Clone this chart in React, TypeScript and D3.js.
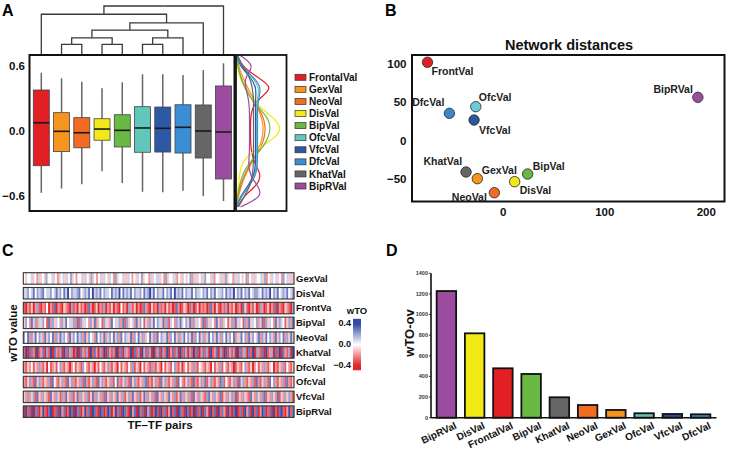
import React from 'react';
import * as d3 from 'd3';

// ---------- Panel A data ----------
const groups = ['FrontalVal', 'GexVal', 'NeoVal', 'DisVal', 'BipVal', 'OfcVal', 'VfcVal', 'DfcVal', 'KhatVal', 'BipRVal'];
const groupColors = ['#e31f26', '#f7941e', '#f26b22', '#f3e916', '#69b944', '#62c7bb', '#2d58a6', '#3a8ed6', '#666666', '#9b4c9f'];
const boxLow = [-0.57, -0.53, -0.49, -0.37, -0.48, -0.56, -0.565, -0.55, -0.6, -0.645];
const boxQ1 = [-0.32, -0.19, -0.155, -0.085, -0.147, -0.196, -0.194, -0.203, -0.249, -0.442];
const boxMed = [0.076, -0.003, -0.016, 0.018, 0.006, 0.028, 0.025, 0.034, 0.0, -0.009];
const boxQ3 = [0.378, 0.169, 0.123, 0.113, 0.15, 0.224, 0.221, 0.242, 0.24, 0.415];
const boxHigh = [0.537, 0.486, 0.454, 0.394, 0.449, 0.523, 0.523, 0.516, 0.562, 0.624];
const boxTicks = [0.6, 0.0, -0.6];

// dendrogram (merge heights)
const dendroTree = {
  h: 4.93, children: [
    { h: 4.1, children: [
      { name: 'FrontalVal', h: 0 },
      { h: 3.23, children: [
        { h: 2.5, children: [
          { h: 1.73, children: [
            { h: 1.07, children: [{ name: 'GexVal', h: 0 }, { name: 'NeoVal', h: 0 }] },
            { h: 1.07, children: [{ name: 'DisVal', h: 0 }, { name: 'BipVal', h: 0 }] },
          ] },
          { h: 1.73, children: [
            { h: 1.07, children: [{ name: 'OfcVal', h: 0 }, { name: 'VfcVal', h: 0 }] },
            { name: 'DfcVal', h: 0 },
          ] },
        ] },
        { name: 'KhatVal', h: 0 },
      ] },
    ] },
    { name: 'BipRVal', h: 0 },
  ],
};

// density side panel (value levels, density per group)
const densLevels = [0.7, 0.6, 0.5, 0.4, 0.3, 0.2, 0.1, 0, -0.1, -0.2, -0.3, -0.4, -0.5, -0.6, -0.7];
const densFrontal = [1, 5, 20, 38, 22, 15, 14, 14, 14, 15, 18, 25, 21, 7, 1];
const densGex = [0, 2, 6, 11, 17, 22, 26, 27, 25, 20, 15, 9, 5, 2, 0];
const densNeo = [0, 1, 4, 9, 15, 23, 28, 29, 27, 21, 14, 8, 4, 1, 0];
const densDis = [0, 1, 3, 8, 15, 26, 40, 46, 33, 14, 5, 3, 2, 1, 0];
const densBip = [0, 1, 4, 8, 14, 24, 33, 34, 30, 22, 12, 6, 3, 1, 0];
const densOfc = [0, 4, 16, 23, 21, 20, 20, 20, 20, 20, 20, 19, 14, 5, 0];
const densVfc = [0, 3, 14, 20, 19, 19, 19, 19, 19, 19, 19, 18, 12, 4, 0];
const densDfc = [0, 4, 17, 25, 22, 21, 21, 21, 21, 21, 21, 20, 13, 4, 0];
const densKhat = [1, 6, 13, 16, 17, 17, 17, 17, 17, 17, 17, 16, 14, 8, 2];
const densBipR = [3, 19, 8, 9, 12, 13, 13, 13, 13, 13, 12, 13, 21, 27, 4];
const densAll = [densFrontal, densGex, densNeo, densDis, densBip, densOfc, densVfc, densDfc, densKhat, densBipR];

// ---------- Panel B data ----------
const mdsNames = ['FrontVal', 'DfcVal', 'OfcVal', 'VfcVal', 'BipRVal', 'KhatVal', 'GexVal', 'BipVal', 'DisVal', 'NeoVal'];
const mdsX = [-74.7, -53.1, -27.1, -28.8, 191.7, -36.7, -25.6, 24.0, 11.2, -8.8];
const mdsY = [101.6, 35.3, 43.9, 26.6, 56.1, -40.9, -49.6, -43.5, -53.5, -67.8];
const mdsColors = ['#e31f26', '#3b87cc', '#6ccadb', '#2c56a0', '#9b4c9f', '#666666', '#f7941e', '#69b944', '#f3e916', '#f26b22'];
const mdsXTicks = [0, 100, 200];
const mdsYTicks = [100, 50, 0, -50];

// ---------- Panel C data ----------
const heatRows = ['GexVal', 'DisVal', 'FrontVa', 'BipVal', 'NeoVal', 'KhatVal', 'DfcVal', 'OfcVal', 'VfcVal', 'BipRVal'];
// digits 0..8 encode wTO -0.4..0.4 (0 = strong red, 4 = white, 8 = strong blue)
const heatValues = [
  '4344534253436443542345354634244535436342453543542634453354243546344253455342634435243543462533453644352443536344253543462435344536243545342645353',
  '5564574656745564575647584655674565748565746554756584756574655647568574655746574856574655746554657465745564756584657465745665475658465745657456',
  '1021302610214021702103210612031201720130216021302104120621302017210312061203120172013201601302120172031021602130120731021301620130217021032106',
  '3642736253641726354263745362716354263725416352745362716345273641526374653726154263754637263542716354273625413627354162735462371635427365413627',
  '6472637465273647263756427364756273645274637256473627465372647362547362746537264736257463726473625746375264736472537462736457263746527364726375',
  '1807160812706180721608172601807216081720618072160817062180716082716081270618027160817206181702716081270618072160817260718062170812607180721608',
  '2132413262130412314621320241321642132031421362132041321426132041321621320413214621302413262143213204132614213201321462130241326213402132614213',
  '2136217362132617421362173621326172136217362132614721362173621326712136217362132617421362172136271362132761421362173621326172136217462132617213',
  '3262361732632173263162732613726326137263261732632732613627326137263261732632732613726326173263216732632713263627132632173263267132632713263621',
  '0817081702810780170827018708170281708710870187028170871082708170827018708170281708710870180718072081708172081078017082708170287017081078102817',
];
const wtoTicks = [0.4, 0.0, -0.4];

// ---------- Panel D data ----------
const barNames = ['BipRVal', 'DisVal', 'FrontalVal', 'BipVal', 'KhatVal', 'NeoVal', 'GexVal', 'OfcVal', 'VfcVal', 'DfcVal'];
const barValues = [1228, 818, 479, 424, 198, 123, 75, 43, 36, 33];
const barColors = ['#9b4c9f', '#f3e916', '#e31f26', '#69b944', '#666666', '#f26b22', '#f7941e', '#5bc2b0', '#2b4f8f', '#3d86c6'];
const barTicks = [0, 200, 400, 600, 800, 1000, 1200, 1400];

const FONT = "'Liberation Sans', Arial, Helvetica, sans-serif";
const fmtTick = (v: number) => (v < 0 ? '\u2212' : '') + Math.abs(v).toFixed(1);

export default function App() {
  // Panel A scales
  const yA = d3.scaleLinear().domain([-0.6, 0.6]).range([196.1, 65.9]);
  const xA = d3.scalePoint<string>().domain(groups).range([41.3, 223.5]);
  const boxW = 16;
  const yD = d3.scaleLinear().domain([0, 5]).range([55, 5.3]);
  const xDen = d3.scaleLinear().domain([0, 50]).range([236.5, 286.5]);

  const root: any = d3.hierarchy(dendroTree as any, (d: any) => d.children);
  root.eachAfter((n: any) => {
    if (!n.children) n.px = xA(n.data.name);
    else n.px = (n.children[0].px + n.children[n.children.length - 1].px) / 2;
    n.py = yD(n.data.h);
  });
  const dendroPaths: string[] = [];
  root.each((n: any) => {
    if (n.children) {
      n.children.forEach((c: any) => {
        dendroPaths.push(`M${c.px},${c.py}V${n.py}H${n.px}`);
      });
    }
  });

  const densLine = d3.line<number>()
    .x((d) => xDen(d))
    .y((_, i) => yA(densLevels[i]))
    .curve(d3.curveBasis);

  // Panel B scales
  const xB = d3.scaleLinear().domain([0, 100]).range([503.3, 604.8]);
  const yB = d3.scaleLinear().domain([0, 100]).range([140.5, 63.5]);
  const labelPlace: Record<string, [number, number, string]> = {
    FrontVal: [4, 9, 'start'],
    DfcVal: [-5, -11, 'end'],
    OfcVal: [3, -9, 'start'],
    VfcVal: [5, 10, 'start'],
    BipRVal: [-5, -8, 'end'],
    KhatVal: [-4, -11, 'end'],
    GexVal: [4.5, -8.5, 'start'],
    BipVal: [5, -8, 'start'],
    DisVal: [5, 8.5, 'start'],
    NeoVal: [-7.5, 4.5, 'end'],
  };

  // Panel C scales
  const yC = d3.scaleBand<string>().domain(heatRows).range([272.7, 417.4]).paddingInner(0.223);
  const heatColor = d3.scaleLinear<string>().domain([-0.4, 0, 0.4]).range(['#e3262e', '#ffffff', '#3548a8']).clamp(true);
  const yCb = d3.scaleLinear().domain([-0.4, 0.4]).range([365, 323]);
  const cbStops = d3.range(-0.5, 0.51, 0.1);

  // Panel D scales
  const xDb = d3.scaleBand<string>().domain(barNames).range([431, 716]).paddingInner(0.31).paddingOuter(0.2);
  const yDb = d3.scaleLinear().domain([0, 1400]).range([417.7, 273.3]);

  return (
    <svg width={729} height={454} style={{ position: 'absolute', left: 0, top: 0, background: '#fff' }}
      fontFamily={FONT} fontWeight="bold">
      <defs>
        <linearGradient id="cbgrad" x1="0" y1="1" x2="0" y2="0">
          {cbStops.map((v, i) => (
            <stop key={i} offset={(v + 0.5) / 1.0} stopColor={heatColor(v)} />
          ))}
        </linearGradient>
      </defs>

      {/* Panel labels */}
      <text x={2} y={16} fontSize={16}>A</text>
      <text x={385} y={16} fontSize={16}>B</text>
      <text x={2} y={256} fontSize={16}>C</text>
      <text x={386} y={256} fontSize={16}>D</text>

      {/* ===== Panel A ===== */}
      <g>
        {dendroPaths.map((p, i) => (
          <path key={i} d={p} fill="none" stroke="#3a3a3a" strokeWidth={1.3} />
        ))}
        {groups.map((g, i) => {
          const cx = xA(g)!;
          return (
            <g key={g}>
              <line x1={cx} x2={cx} y1={yA(boxHigh[i])} y2={yA(boxQ3[i])} stroke="#666" strokeWidth={1.5} />
              <line x1={cx} x2={cx} y1={yA(boxQ1[i])} y2={yA(boxLow[i])} stroke="#666" strokeWidth={1.5} />
              <rect x={cx - boxW / 2} y={yA(boxQ3[i])} width={boxW} height={yA(boxQ1[i]) - yA(boxQ3[i])}
                fill={groupColors[i]} stroke="#444" strokeWidth={0.8} />
              <line x1={cx - boxW / 2} x2={cx + boxW / 2} y1={yA(boxMed[i])} y2={yA(boxMed[i])} stroke="#1a1a1a" strokeWidth={1.6} />
            </g>
          );
        })}
        <rect x={29.5} y={55} width={205} height={156} fill="none" stroke="#111" strokeWidth={2} />
        {boxTicks.map((t) => (
          <text key={t} x={25} y={yA(t)} dy="0.35em" textAnchor="end" fontSize={11.5} fill="#111">{fmtTick(t)}</text>
        ))}
        {/* density panel */}
        {densAll.map((dd, i) => (
          <path key={i} d={densLine(dd) || ''} fill="none" stroke={groupColors[i]} strokeWidth={1.2} />
        ))}
        <rect x={236} y={55} width={50.5} height={156} fill="none" stroke="#111" strokeWidth={1.8} />
        {/* legend */}
        {groups.map((g, i) => {
          const cy = 77.3 + i * 12.08;
          return (
            <g key={g}>
              <rect x={295} y={cy - 3} width={11} height={6} fill={groupColors[i]} stroke="#333" strokeWidth={0.7} />
              <text x={309} y={cy} dy="0.36em" fontSize={10} fill="#111">{g}</text>
            </g>
          );
        })}
      </g>

      {/* ===== Panel B ===== */}
      <g>
        <text x={569} y={50} textAnchor="middle" fontSize={14.5} fill="#111">Network distances</text>
        <rect x={412} y={55} width={312.5} height={146.5} fill="none" stroke="#111" strokeWidth={2} />
        {mdsYTicks.map((t) => (
          <text key={t} x={406.5} y={yB(t)} dy="0.35em" textAnchor="end" fontSize={11.5} fill="#111">
            {t < 0 ? '\u2212' + Math.abs(t) : t}
          </text>
        ))}
        {mdsXTicks.map((t) => (
          <text key={t} x={xB(t)} y={216} textAnchor="middle" fontSize={11.5} fill="#111">{t}</text>
        ))}
        {mdsNames.map((n, i) => {
          const px = xB(mdsX[i]);
          const py = yB(mdsY[i]);
          const [dx, dy, anchor] = labelPlace[n];
          return (
            <g key={n}>
              <circle cx={px} cy={py} r={5.2} fill={mdsColors[i]} stroke="#333" strokeWidth={0.9} />
              <text x={px + dx} y={py + dy} dy="0.35em" textAnchor={anchor as any} fontSize={10.5} fill="#222">{n}</text>
            </g>
          );
        })}
      </g>

      {/* ===== Panel C ===== */}
      <g>
        {heatRows.map((r, ri) => {
          const vals = heatValues[ri].split('').map((c) => (+c - 4) * 0.1);
          const xC = d3.scaleBand<number>().domain(d3.range(vals.length)).range([23.3, 294]);
          const y0 = yC(r)!;
          return (
            <g key={r}>
              {vals.map((v, k) => (
                <rect key={k} x={xC(k)!} y={y0} width={xC.bandwidth() + 0.3} height={yC.bandwidth()} fill={heatColor(v)} />
              ))}
              <rect x={23.3} y={y0} width={294 - 23.3} height={yC.bandwidth()} fill="none" stroke="#333" strokeWidth={1.1} />
              <text x={296} y={y0 + yC.bandwidth() / 2} dy="0.36em" fontSize={9.5} fill="#111">{r}</text>
            </g>
          );
        })}
        <text transform={`translate(17,333) rotate(-90)`} textAnchor="middle" fontSize={11.5} fill="#111">wTO value</text>
        <text x={160} y={429} textAnchor="middle" fontSize={11.5} fill="#111">TF–TF pairs</text>
        {/* colour key */}
        <text x={357} y={314} textAnchor="middle" fontSize={9.5} fill="#111">wTO</text>
        <rect x={353} y={yCb(0.48)} width={8} height={yCb(-0.5) - yCb(0.48)} fill="url(#cbgrad)" />
        {wtoTicks.map((t) => (
          <text key={t} x={351} y={yCb(t)} dy="0.35em" textAnchor="end" fontSize={9} fill="#111">{fmtTick(t)}</text>
        ))}
      </g>

      {/* ===== Panel D ===== */}
      <g>
        {barNames.map((n, i) => (
          <rect key={n} x={xDb(n)!} y={yDb(barValues[i])} width={xDb.bandwidth()} height={yDb(0) - yDb(barValues[i])}
            fill={barColors[i]} stroke="#111" strokeWidth={1.8} />
        ))}
        <line x1={431} x2={431} y1={yDb(1400)} y2={yDb(0)} stroke="#111" strokeWidth={1.6} />
        <line x1={431} x2={716.5} y1={yDb(0)} y2={yDb(0)} stroke="#111" strokeWidth={1.6} />
        {barTicks.map((t) => (
          <g key={t}>
            <line x1={429} x2={431} y1={yDb(t)} y2={yDb(t)} stroke="#111" strokeWidth={0.8} />
            <text x={428} y={yDb(t)} dy="0.35em" textAnchor="end" fontSize={5.5} fill="#333">{t}</text>
          </g>
        ))}
        <text transform={`translate(414,333) rotate(-90)`} textAnchor="middle" fontSize={13} fill="#111">wTO-ov</text>
        {barNames.map((n) => {
          const cx = xDb(n)! + xDb.bandwidth() / 2;
          return (
            <text key={n} transform={`translate(${cx + 11},${428}) rotate(-25)`} textAnchor="end" fontSize={10} fill="#111">{n}</text>
          );
        })}
      </g>
    </svg>
  );
}
